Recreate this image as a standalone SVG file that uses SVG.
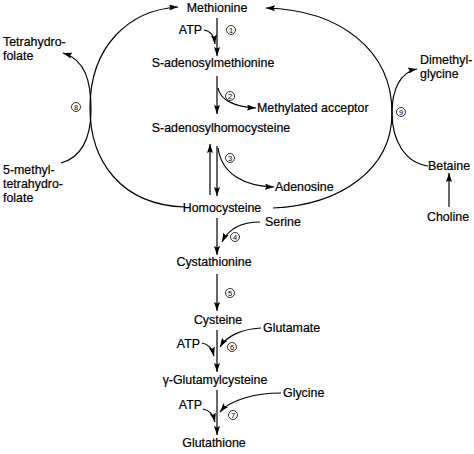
<svg xmlns="http://www.w3.org/2000/svg" width="474" height="454" viewBox="0 0 474 454">
<defs>
<marker id="ah" markerUnits="userSpaceOnUse" markerWidth="10" markerHeight="7" refX="9" refY="3" orient="auto">
<path d="M0,0 L9,3 L0,6 L1.5,3 z" fill="#000"/>
</marker>
<style>
text{font-family:"Liberation Sans",Arial,sans-serif;font-size:12.4px;fill:#000;stroke:#000;stroke-width:0.2}
.c{text-anchor:middle}
.e{text-anchor:end}
.n circle{fill:#fff;stroke:#000;stroke-width:0.8}
.n text{font-size:7.5px;text-anchor:middle;stroke-width:0}
#connectors path{fill:none;stroke:#000;stroke-width:1.2;marker-end:url(#ah)}
</style>
</defs>
<rect width="474" height="454" fill="#fff"/>
<g id="connectors">
<path d="M185,207 C120,205 90,160 90,108 C90,45 130,10 178,7"/>
<path d="M273,208 C340,205 392,170 392,113 C392,50 340,10 266,8"/>
<path d="M61,163 C80,158 91,140 91,110 C91,80 85,60 63,53"/>
<path d="M428,166 C405,163 392,140 392,113 C392,90 400,72 417,69"/>
<path d="M449,207 L449,173"/>
<path d="M217,18 L217,56"/>
<path d="M204,30 C211,31 214,36 215,44"/>
<path d="M217,76 L217,114"/>
<path d="M218,88 C220,100 235,107 256,108"/>
<path d="M217,146 L217,196"/>
<path d="M210,195 L210,144"/>
<path d="M218,148 C222,175 245,186 274,187"/>
<path d="M217,218 L217,255"/>
<path d="M260,222 C240,222 228,230 222,242"/>
<path d="M217,274 L217,311"/>
<path d="M217,330 L217,372"/>
<path d="M261,328 C240,329 226,337 220,347"/>
<path d="M202,343 C208,344 212,348 214,356"/>
<path d="M217,390 L217,435"/>
<path d="M281,393 C255,393 230,400 220,412"/>
<path d="M203,409 C209,410 213,414 215,422"/>
</g>
<g id="methionine"><text class="c" x="217" y="12">Methionine</text></g>
<g id="atp1"><text class="e" x="202" y="34">ATP</text></g>
<g id="step1" class="n"><circle cx="231" cy="30" r="4.5"/><text x="231" y="32.7">1</text></g>
<g id="sam"><text class="c" x="213" y="67">S-adenosylmethionine</text></g>
<g id="step2" class="n"><circle cx="230" cy="96" r="4.5"/><text x="230" y="98.7">2</text></g>
<g id="methylated-acceptor"><text x="257" y="112">Methylated acceptor</text></g>
<g id="sah"><text class="c" x="221" y="132">S-adenosylhomocysteine</text></g>
<g id="step3" class="n"><circle cx="230" cy="158" r="4.5"/><text x="230" y="160.7">3</text></g>
<g id="adenosine"><text x="275" y="191">Adenosine</text></g>
<g id="homocysteine"><text class="c" x="222" y="212">Homocysteine</text></g>
<g id="serine"><text x="265" y="226">Serine</text></g>
<g id="step4" class="n"><circle cx="235" cy="237" r="4.5"/><text x="235" y="239.7">4</text></g>
<g id="cystathionine"><text class="c" x="214" y="266">Cystathionine</text></g>
<g id="step5" class="n"><circle cx="230" cy="293" r="4.5"/><text x="230" y="295.7">5</text></g>
<g id="cysteine"><text class="c" x="218" y="324">Cysteine</text></g>
<g id="glutamate"><text x="263" y="332">Glutamate</text></g>
<g id="atp2"><text class="e" x="200" y="348">ATP</text></g>
<g id="step6" class="n"><circle cx="232" cy="347" r="4.5"/><text x="232" y="349.7">6</text></g>
<g id="glutamylcysteine"><text class="c" x="215" y="384">γ-Glutamylcysteine</text></g>
<g id="glycine"><text x="283" y="397">Glycine</text></g>
<g id="atp3"><text class="e" x="202" y="409">ATP</text></g>
<g id="step7" class="n"><circle cx="233" cy="415" r="4.5"/><text x="233" y="417.7">7</text></g>
<g id="glutathione"><text class="c" x="214" y="447">Glutathione</text></g>
<g id="thf"><text x="3" y="46">Tetrahydro-</text><text x="3" y="60">folate</text></g>
<g id="step8" class="n"><circle cx="76" cy="107" r="4.5"/><text x="76" y="109.7">8</text></g>
<g id="mthf"><text x="3" y="174">5-methyl-</text><text x="3" y="188">tetrahydro-</text><text x="3" y="202">folate</text></g>
<g id="dimethylglycine"><text x="420" y="64">Dimethyl-</text><text x="420" y="78">glycine</text></g>
<g id="step9" class="n"><circle cx="401" cy="112" r="4.5"/><text x="401" y="114.7">9</text></g>
<g id="betaine"><text x="428" y="170">Betaine</text></g>
<g id="choline"><text x="427" y="221">Choline</text></g>
</svg>
